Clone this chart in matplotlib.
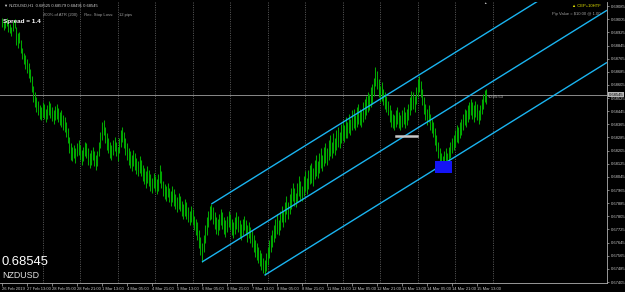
import matplotlib
matplotlib.use('Agg')
import matplotlib.pyplot as plt
import matplotlib.transforms as mtransforms
from matplotlib.patches import Rectangle

plt.rcParams['font.family'] = ['Liberation Sans', 'DejaVu Sans']

# ---------------- data (H1 bars, price = 0.67 + pts/1e5) ----------------
BASE = 0.67
HIGH_PTS = [
    2010, 1990, 2000, 2015, 1985, 1975, 1960, 1995, 2005, 1960, 1920, 1930,
    1880, 1830, 1800, 1790, 1760, 1740, 1700, 1660, 1600, 1560, 1530, 1510, 1480,
    1470, 1500, 1490, 1460, 1480, 1510, 1495, 1470, 1450, 1475, 1490, 1465, 1440,
    1450, 1420, 1410, 1380, 1340,
    1290, 1250, 1230, 1240, 1220,
    1250, 1270, 1240, 1210, 1230, 1260, 1250, 1220, 1190, 1210, 1230, 1200, 1180, 1200,
    1260, 1320, 1380, 1390, 1350, 1310,
    1280, 1260, 1240, 1270, 1290, 1260, 1230,
    1280, 1330, 1350, 1320, 1280, 1250,
    1220, 1200, 1180, 1210, 1190, 1160, 1140, 1170,
    1150, 1120, 1100, 1080, 1110, 1090, 1060, 1040, 1070, 1050,
    1030, 1060, 1120, 1080, 1020, 1000, 990, 1010, 980, 960,
    990, 970, 940, 920, 950, 930, 900, 880, 910,
    890, 860, 840, 870, 850, 810, 790,
    770, 720, 680, 640, 690,
    750, 800, 840, 870, 880,
    860, 830, 800, 790, 820, 850,
    830, 800, 780, 810, 840, 820, 790, 770, 800, 830, 810, 780,
    760, 790, 810, 780, 750, 770, 740, 720,
    690, 660, 640, 620, 600, 580, 550,
    540,
    580, 620, 660, 690, 720, 750,
    790, 820, 780, 840, 870, 840, 890, 930, 890, 940,
    980, 1010, 980, 950, 1010, 1050, 1020,
    990, 1050, 1080, 1040, 1090, 1120,
    1130, 1100, 1150, 1180, 1140, 1190, 1220, 1180,
    1230, 1250, 1220, 1270, 1300, 1260, 1310, 1280, 1330, 1350,
    1320, 1370, 1390, 1360, 1410, 1380, 1430, 1400, 1450,
    1460, 1420, 1470, 1490, 1460, 1450, 1500,
    1520, 1540, 1560, 1550, 1590, 1610,
    1650, 1714, 1690, 1640, 1600,
    1620, 1580, 1560, 1540, 1510,
    1480, 1450, 1430, 1420, 1450,
    1470, 1440, 1420, 1450, 1470, 1440, 1460, 1490, 1530,
    1570, 1560, 1540,
    1590, 1640, 1660, 1630, 1580,
    1530, 1490, 1460, 1480, 1430, 1400, 1380,
    1340, 1300, 1260, 1220, 1190, 1170, 1200,
    1220, 1190, 1230, 1260, 1280,
    1300, 1330, 1360, 1350, 1380,
    1400, 1430, 1460, 1450, 1480, 1500,
    1520, 1500, 1480, 1510, 1490, 1450,
    1480, 1520, 1550, 1575, 1579,
]
LOW_PTS = [
    1960, 1940, 1950, 1965, 1930, 1920, 1900, 1935, 1950, 1850, 1830, 1860,
    1800, 1760, 1730, 1700, 1680, 1650, 1620, 1560, 1500, 1470, 1440, 1420, 1400,
    1390, 1410, 1400, 1380, 1395, 1420, 1405, 1385, 1370, 1390, 1400, 1380, 1360,
    1350, 1330, 1320, 1290, 1250,
    1190, 1150, 1140, 1160, 1130,
    1170, 1180, 1150, 1120, 1140, 1170, 1160, 1120, 1100, 1120, 1150, 1110, 1090, 1110,
    1170, 1220, 1270, 1300, 1250, 1210,
    1190, 1160, 1150, 1180, 1200, 1170, 1140,
    1190, 1230, 1260, 1220, 1180, 1150,
    1120, 1100, 1080, 1110, 1090, 1060, 1050, 1070,
    1050, 1020, 1000, 980, 1010, 990, 960, 950, 980, 960,
    940, 960, 1010, 980, 930, 910, 900, 920, 890, 870,
    890, 870, 850, 830, 850, 840, 810, 790, 810,
    790, 770, 750, 770, 750, 720, 690,
    660, 610, 570, 527, 590,
    640, 690, 740, 780, 790,
    760, 730, 700, 690, 720, 750,
    730, 700, 680, 710, 740, 720, 690, 670, 700, 730, 710, 680,
    660, 690, 720, 690, 650, 670, 640, 620,
    590, 560, 540, 520, 500, 480, 460,
    446,
    470, 510, 550, 590, 620, 650,
    670, 700, 690, 720, 770, 740, 770, 820, 790, 820,
    850, 900, 870, 860, 890, 930, 900,
    900, 930, 960, 940, 970, 1000,
    1010, 990, 1030, 1050, 1040, 1070, 1100, 1080,
    1110, 1130, 1120, 1150, 1170, 1160, 1190, 1180, 1210, 1230,
    1220, 1250, 1270, 1260, 1280, 1280, 1310, 1300, 1330,
    1340, 1330, 1350, 1370, 1360, 1350, 1380,
    1400, 1420, 1440, 1450, 1470, 1490,
    1540, 1600, 1580, 1530, 1500,
    1510, 1480, 1460, 1440, 1420,
    1380, 1350, 1340, 1330, 1350,
    1370, 1340, 1330, 1350, 1370, 1340, 1360, 1390, 1420,
    1450, 1460, 1440,
    1490, 1530, 1560, 1530, 1480,
    1430, 1390, 1360, 1380, 1330, 1310, 1290,
    1240, 1200, 1160, 1120, 1100, 1087, 1100,
    1120, 1100, 1130, 1160, 1190,
    1210, 1230, 1260, 1250, 1280,
    1300, 1330, 1360, 1350, 1380, 1400,
    1420, 1400, 1380, 1410, 1390, 1370,
    1390, 1430, 1460, 1500, 1491,
]
XTICK_LABELS = ["26 Feb 2019", "27 Feb 13:00", "28 Feb 05:00", "28 Feb 21:00",
                "1 Mar 13:00", "4 Mar 05:00", "4 Mar 21:00", "5 Mar 13:00",
                "6 Mar 05:00", "6 Mar 21:00", "7 Mar 13:00", "8 Mar 05:00",
                "8 Mar 21:00", "11 Mar 13:00", "12 Mar 05:00", "12 Mar 21:00",
                "13 Mar 13:00", "14 Mar 05:00", "14 Mar 21:00", "15 Mar 13:00"]
YTICKS = [0.67405, 0.67485, 0.67565, 0.67645, 0.67725, 0.67805, 0.67885,
          0.67965, 0.68045, 0.68125, 0.68205, 0.68285, 0.68365, 0.68445,
          0.68525, 0.68605, 0.68685, 0.68765, 0.68845, 0.68925, 0.69005, 0.69085]
BID = 0.68545
# Andrews pitchfork anchor points (bar index, price)
PF_P1 = (128, 0.67527)
PF_P2 = (134, 0.67880)
PF_P3 = (168, 0.67446)
# objects
RECT = (277, 288, 0.68069, 0.68142)     # blue rectangle (bar0, bar1, p0, p1)
HSEG = (252, 265.5, 0.68294)            # grey horizontal segment

highs = [BASE + h / 1e5 for h in HIGH_PTS]
lows = [BASE + l / 1e5 for l in LOW_PTS]
idx = list(range(len(highs)))

# ---------------- figure ----------------
W, H = 625, 292
fig = plt.figure(figsize=(W / 100, H / 100), dpi=100, facecolor='black')
ax = fig.add_axes([0, 9 / H, 607 / W, 281 / H])
ax.set_facecolor('black')
XMAX = 387.2
ax.set_xlim(-1.28, XMAX)
ax.set_ylim(0.67399, 0.69110)

# vertical dotted grid (daily)
grid_x = list(range(26, 315, 24))
ax.vlines(grid_x, 0.67399, 0.69110, colors='#6a6a6a', linestyles=(0, (1.2, 1.6)), lw=0.6, zorder=1)

# bars
ax.vlines(idx, lows, highs, colors='#00a800', lw=0.75, zorder=3)

# bid line
ax.axhline(BID, color='#8a8a8a', lw=0.7, zorder=2)

# pitchfork
mx = (PF_P2[0] + PF_P3[0]) / 2
my = (PF_P2[1] + PF_P3[1]) / 2
slope = (my - PF_P1[1]) / (mx - PF_P1[0])
for (px, py) in (PF_P1, PF_P2, PF_P3):
    ax.plot([px, XMAX], [py, py + slope * (XMAX - px)], color='#1ab4f0', lw=1.0, zorder=4,
            solid_capstyle='butt')

# objects
ax.add_patch(Rectangle((RECT[0], RECT[2]), RECT[1] - RECT[0], RECT[3] - RECT[2],
                       facecolor='#1414f5', edgecolor='none', zorder=5))
ax.plot([HSEG[0], HSEG[1]], [HSEG[2], HSEG[2]], color='#c8c8c8', lw=1.8, zorder=5)

# axes styling
for s in ('left', 'top'):
    ax.spines[s].set_visible(False)
for s in ('right', 'bottom'):
    ax.spines[s].set_color('#b0b0b0')
    ax.spines[s].set_linewidth(0.6)
ax.yaxis.tick_right()
ax.set_yticks(YTICKS)
ax.set_yticklabels([f"{v:.5f}" for v in YTICKS])
ax.set_xticks(list(range(0, 16 * len(XTICK_LABELS), 16)))
ax.set_xticklabels(XTICK_LABELS, ha='left')
ax.tick_params(axis='y', colors='#b0b0b0', labelcolor='#c8c8c8', labelsize=3.0,
               length=1.5, width=0.5, pad=1)
ax.tick_params(axis='x', colors='#b0b0b0', labelcolor='#c8c8c8', labelsize=3.0,
               length=2, width=0.5, pad=1)

# bid price box on the axis
trans = mtransforms.blended_transform_factory(ax.transAxes, ax.transData)
ax.text(1.003, BID, "0.68545", transform=trans, ha='left', va='center', fontsize=3.0,
        color='black', bbox=dict(boxstyle='square,pad=0.15', facecolor='#b8b8b8',
                                 edgecolor='none'), zorder=10, clip_on=False)

def ftext(x, y, s, **kw):
    fig.text(x / W, 1 - y / H, s, **kw)

ftext(4, 6, "\u25bc NZDUSD,H1  0.68525 0.68579 0.68491 0.68545", fontsize=3.0,
      color='#d0d0d0', va='center', ha='left')
ftext(43, 15, "200% of ATR (200)      Rec. Stop Loss:     12 pips", fontsize=3.0,
      color='#a0a0a0', va='center', ha='left')
ftext(3, 22, "Spread = 1.4", fontsize=4.6, color='white', fontweight='bold',
      va='center', ha='left')
ftext(601, 6, "\u25b2 CEP+10HTF", fontsize=3.0, color='#e6e600', va='center', ha='right')
ftext(601, 14, "Pip Value = $10.00 @ 1.00", fontsize=3.0, color='#a0a0a0',
      va='center', ha='right')
ftext(2, 262, "0.68545", fontsize=9.4, color='white', va='center', ha='left')
ftext(2, 276, "NZDUSD", fontsize=6.4, color='#e0e0e0', va='center', ha='left')
ftext(488, 97, "<0:25:53", fontsize=3.0, color='#c0c0c0', va='center', ha='left')
ftext(485, 3, "\u25b2", fontsize=2.5, color='#c0c0c0', va='center', ha='center')

fig.savefig('out.png', dpi=100, facecolor='black')
